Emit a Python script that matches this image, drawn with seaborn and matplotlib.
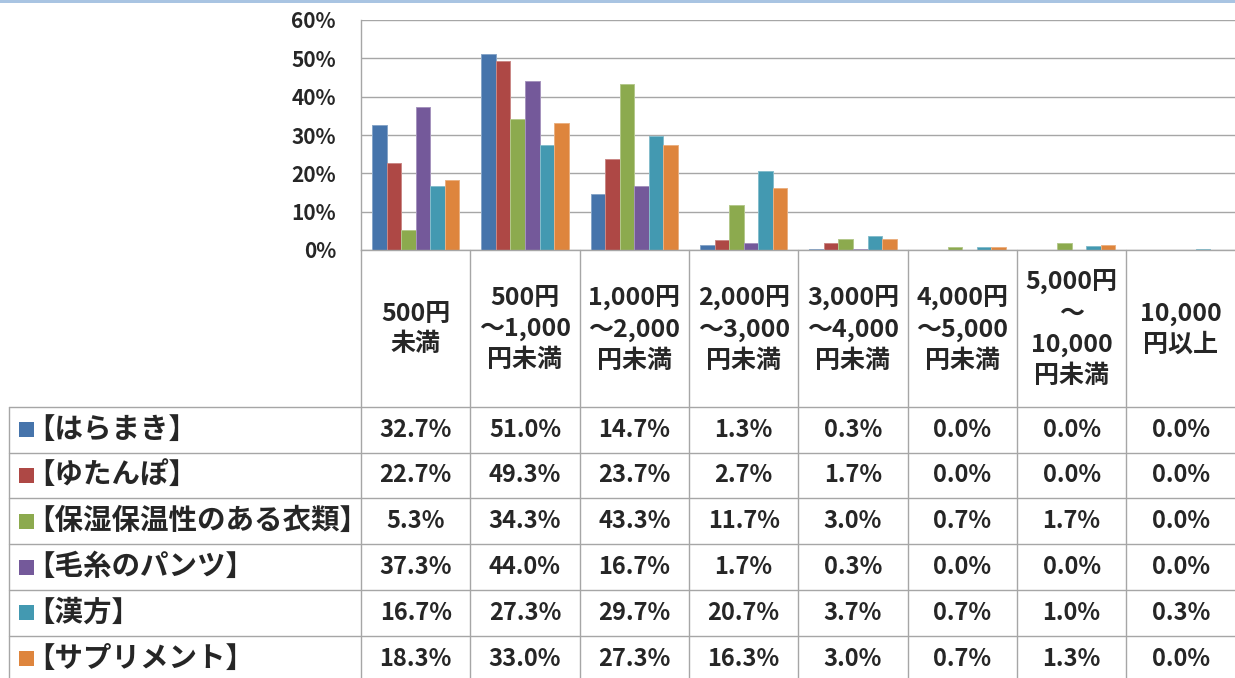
import matplotlib
matplotlib.use('Agg')
import matplotlib.pyplot as plt
import matplotlib.colors as mcolors
import seaborn as sns
import pandas as pd
import numpy as np
from matplotlib.patches import Rectangle
from matplotlib.lines import Line2D

categories = ["500円\n未満", "500円\n～1,000\n円未満", "1,000円\n～2,000\n円未満",
              "2,000円\n～3,000\n円未満", "3,000円\n～4,000\n円未満", "4,000円\n～5,000\n円未満",
              "5,000円\n～\n10,000\n円未満", "10,000\n円以上"]
series_names = ["【はらまき】", "【ゆたんぽ】", "【保湿保温性のある衣類】",
                "【毛糸のパンツ】", "【漢方】", "【サプリメント】"]
haramaki = [32.7, 51.0, 14.7, 1.3, 0.3, 0.0, 0.0, 0.0]
yutanpo = [22.7, 49.3, 23.7, 2.7, 1.7, 0.0, 0.0, 0.0]
irui = [5.3, 34.3, 43.3, 11.7, 3.0, 0.7, 1.7, 0.0]
pantsu = [37.3, 44.0, 16.7, 1.7, 0.3, 0.0, 0.0, 0.0]
kampo = [16.7, 27.3, 29.7, 20.7, 3.7, 0.7, 1.0, 0.3]
supplement = [18.3, 33.0, 27.3, 16.3, 3.0, 0.7, 1.3, 0.0]
series_values = [haramaki, yutanpo, irui, pantsu, kampo, supplement]
yticks = [0, 10, 20, 30, 40, 50, 60]
colors = ["#4674AB", "#AE4845", "#8CAA4E", "#74599A", "#4399B1", "#DE853D"]

sns.set_style("white")
plt.rcParams['font.family'] = ['Noto Sans CJK JP', 'DejaVu Sans']

rows = []
for name, vals in zip(series_names, series_values):
    for c, v in zip(categories, vals):
        rows.append({"category": c, "series": name, "value": v / 100})
df = pd.DataFrame(rows)

W, H = 1235, 678
fig = plt.figure(figsize=(W / 100, H / 100), dpi=100)
fig.patch.set_facecolor('white')

x0, y_top, y_bot = 361, 20, 250
cw = 109.33
ax = fig.add_axes([x0 / W, (H - y_bot) / H, 8 * cw / W, (y_bot - y_top) / H])
sns.barplot(data=df, x="category", y="value", hue="series", order=categories,
            hue_order=series_names, palette=colors, saturation=1, width=0.8,
            legend=False, ax=ax, edgecolor='none')
for p in ax.patches:
    fc = np.array(mcolors.to_rgb(p.get_facecolor()))
    p.set_edgecolor(tuple(fc + (1 - fc) * 0.35))
    p.set_linewidth(0.7)
ax.set_xlim(-0.5, 7.5)
ax.set_ylim(0, 0.6)
ax.set_yticks([t / 100 for t in yticks])
ax.set_yticklabels([f"{t}%" for t in yticks])
ax.yaxis.grid(True, color='#A6A6A6', lw=1)
ax.set_axisbelow(True)
ax.set_xticks([])
ax.set_xlabel('')
ax.set_ylabel('')
for s in ['top', 'right']:
    ax.spines[s].set_visible(False)
for s in ['left', 'bottom']:
    ax.spines[s].set_color('#A6A6A6')
    ax.spines[s].set_linewidth(1)
ax.tick_params(axis='y', length=6, width=1, color='#A6A6A6', labelsize=15, pad=12)
for lab in ax.get_yticklabels():
    lab.set_fontweight('bold')

# top blue strip
fig.add_artist(Rectangle((0, 1 - 3 / H), 1, 3 / H, transform=fig.transFigure,
                         color='#A9C4E2', lw=0))

line_c = '#A6A6A6'
def hline(y, xa, xb):
    fig.add_artist(Line2D([xa / W, xb / W], [1 - y / H, 1 - y / H],
                          transform=fig.transFigure, color=line_c, lw=1))
def vline(x, ya, yb):
    fig.add_artist(Line2D([x / W, x / W], [1 - ya / H, 1 - yb / H],
                          transform=fig.transFigure, color=line_c, lw=1))

row_top = 406.7
rh = 45.8
for k in range(9):
    vline(x0 + k * cw, y_bot, H)
vline(8.5, row_top, H)
for r in range(7):
    hline(row_top + r * rh, 8.5, W)

# header labels
for k, c in enumerate(categories):
    fig.text((x0 + (k + 0.5) * cw) / W, 1 - 329 / H, c, ha='center', va='center',
             fontsize=18, fontweight='bold', linespacing=1.36)

# data rows
for r, (name, vals, col) in enumerate(zip(series_names, series_values, colors)):
    yc = row_top + (r + 0.5) * rh
    fig.add_artist(Rectangle((19 / W, 1 - (yc + 7.5) / H), 15 / W, 15 / H,
                             transform=fig.transFigure, color=col, lw=0))
    fig.text(26 / W, 1 - yc / H, name, ha='left', va='center', fontsize=20.5,
             fontweight='bold')
    for k, v in enumerate(vals):
        fig.text((x0 + (k + 0.5) * cw) / W, 1 - yc / H, f"{v:.1f}%", ha='center',
                 va='center', fontsize=17, fontweight='bold')

fig.savefig('out.png', dpi=100)
